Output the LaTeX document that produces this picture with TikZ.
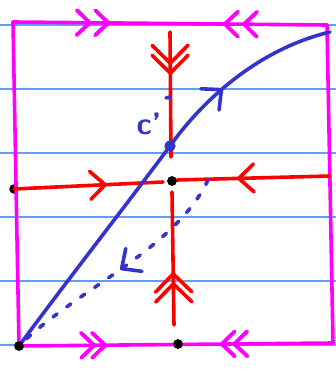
\documentclass[tikz,border=0pt]{standalone}
\usetikzlibrary{arrows.meta,decorations.markings}
\definecolor{pagelines}{RGB}{95,160,245}
\definecolor{framemag}{RGB}{255,0,255}
\definecolor{curveblue}{RGB}{52,52,204}
\definecolor{linered}{RGB}{255,0,0}

\begin{document}
\begin{tikzpicture}[x=1pt, y=-1pt,
    ruled/.style={pagelines, line width=1.1pt},
    frame/.style={framemag, line width=3.6pt, line cap=round, line join=round},
    redline/.style={linered, line width=3.6pt, line cap=round},
    blueline/.style={curveblue, line width=3.6pt, line cap=round},
    hidden/.style={blueline, dash pattern=on 5pt off 12pt},
    dot/.style={circle, fill=black, inner sep=0pt, minimum size=9.5pt},
    bluedot/.style={circle, fill=curveblue, inner sep=0pt, minimum size=11pt},
    clabel/.style={curveblue, font=\sffamily\bfseries\fontsize{31}{34}\selectfont, inner sep=0pt},
    magtip/.tip={Straight Barb[round, length=13pt, width=25pt]},
    redtip/.tip={Straight Barb[round, length=15pt, width=28pt]},
    redwide/.tip={Straight Barb[round, length=18pt, width=36pt]},
    bluetip/.tip={Straight Barb[round, length=15pt, width=28pt]},
    twofwd/.style 2 args={postaction={decorate}, decoration={markings,
      mark=at position #1 with {\arrow{magtip}},
      mark=at position #2 with {\arrow{magtip}}}},
    twoback/.style 2 args={postaction={decorate}, decoration={markings,
      mark=at position #1 with {\arrowreversed{magtip}},
      mark=at position #2 with {\arrowreversed{magtip}}}},
    redtwo/.style 2 args={postaction={decorate}, decoration={markings,
      mark=at position #1 with {\arrow{redwide}},
      mark=at position #2 with {\arrow{redwide}}}},
    redone/.style={postaction={decorate}, decoration={markings,
      mark=at position #1 with {\arrow{redtip}}}},
    blueone/.style={postaction={decorate}, decoration={markings,
      mark=at position #1 with {\arrow{bluetip}}}}
  ]
    \useasboundingbox (0,0) rectangle (336,370);
    \fill[white] (0,0) rectangle (336,370);
    \foreach \ly in {25,89,153,217,281,345}
      \draw[ruled] (0,\ly) -- (336,\ly);

    \coordinate (tl) at (13,22);
    \coordinate (tr) at (327,25);
    \coordinate (br) at (333,343);
    \node[dot] (bl) at (19,346) {};
    \node[dot] (bmid) at (178,344) {};
    \node[dot] (left) at (14,189) {};
    \node[dot] (mid) at (172,181) {};
    \node[bluedot] (cross) at (170,146) {};
    \coordinate (vtop) at (170,32);
    \coordinate (vtopend) at (171,157);
    \coordinate (vbot) at (174,325);
    \coordinate (vbotend) at (172,192);
    \coordinate (leftend) at (163,182);
    \coordinate (right) at (330,176);
    \coordinate (rightend) at (177,180);
    \coordinate (curveend) at (330,32);
    \coordinate (backstart) at (208,180);
    \coordinate (tickA) at (166,98);
    \coordinate (tickB) at (170,97);
    \node[clabel] (cname) at (149,124) {c'};

    \draw[frame] (tl) -- (bl.center);
    \draw[frame] (tr) -- (br);
    \draw[frame, twofwd={0.25}{0.309}, twoback={0.669}{0.73}] (tl) -- (tr);
    \draw[frame, twofwd={0.245}{0.28}, twoback={0.64}{0.68}] (bl.center) -- (br);

    \draw[redline, redtwo={0.264}{0.344}] (vtop) -- (vtopend);
    \draw[redline, redtwo={0.323}{0.398}] (vbot) -- (vbotend);
    \draw[redline, redone=0.624] (left.center) -- (leftend);
    \draw[redline, redone=0.608] (right) -- (rightend);

    \draw[blueline] (bl.center) .. controls (60,290) and (130,200) .. (cross.center);
    \draw[blueline, blueone=0.39] (cross.center) .. controls (200,104) and (255,50) .. (curveend);
    \draw[hidden, blueone=0.5] (backstart) .. controls (175,250) and (75,290) .. (bl.center);
    \draw[blueline] (tickA) -- (tickB);

    \node[dot] at (bl) {};
    \node[dot] at (bmid) {};
    \node[dot] at (mid) {};
    \node[bluedot] at (cross) {};
  \end{tikzpicture}
\end{document}
